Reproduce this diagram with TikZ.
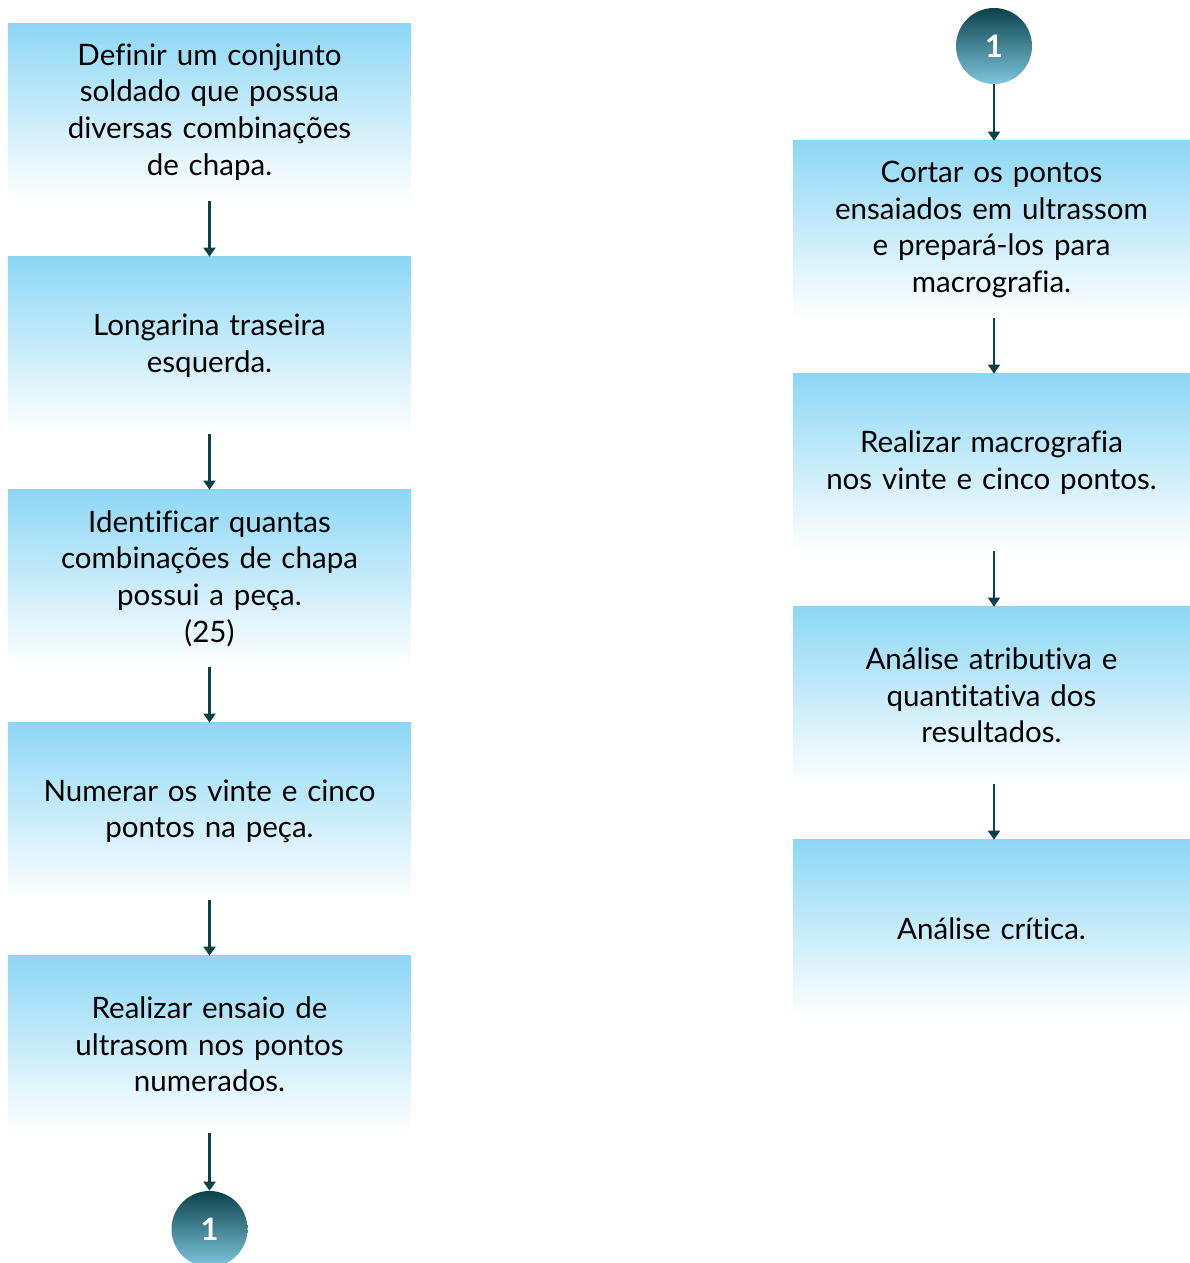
\documentclass[tikz,border=0pt]{standalone}
\usepackage{fontspec}
\setmainfont[Ligatures=NoCommon]{Lato}
\usepackage{xcolor}
\usepackage{tikz}
\usetikzlibrary{arrows.meta}

\definecolor{azulcaixa}{HTML}{8DD7F5}
\definecolor{tealescuro}{HTML}{0B4249}
\definecolor{tealclaro}{HTML}{7FC6DF}

\begin{document}
\begin{tikzpicture}[x=0.025cm, y=-0.025cm]
  % Define styles
  \tikzstyle{etapa} = [rectangle, top color=azulcaixa, bottom color=white, minimum height=4.425cm,
                       text width=9.6cm, align=center, inner sep=0pt,
                       font=\fontsize{21}{26}\selectfont]
  \tikzstyle{esq} = [etapa, minimum width=10.075cm]
  \tikzstyle{dir} = [etapa, minimum width=9.925cm]
  \tikzstyle{conector} = [circle, top color=tealescuro, bottom color=tealclaro, minimum size=1.9cm,
                          inner sep=0pt, text=white, font=\fontsize{22}{24}\selectfont\bfseries]
  \tikzstyle{flecha} = [-{Triangle[width=8.5pt,length=6.5pt]}, line width=1.8pt, draw=tealescuro]

  \useasboundingbox (0,0) rectangle (1190,1263);
  \clip (0,0) rectangle (1190,1263);

  % Left column
  \node[esq] (def) at (209.5,112) {Definir um conjunto\\ soldado que possua\\ diversas combinações\\ de chapa.};
  \node[esq] (lon) at (209.5,345.5) {Longarina traseira\\ esquerda.};
  \node[esq] (ide) at (209.5,578.5) {Identificar quantas\\ combinações de chapa\\ possui a peça.\\ (25)};
  \node[esq] (num) at (209.5,811.5) {Numerar os vinte e cinco\\ pontos na peça.};
  \node[esq] (ens) at (209.5,1044.5) {Realizar ensaio de\\ ultrasom nos pontos\\ numerados.};
  \node[conector] (c1a) at (209.5,1229) {1};

  % Right column
  \node[conector] (c1b) at (994,46) {1};
  \node[dir] (cor) at (991.5,229.5) {Cortar os pontos\\ ensaiados em ultrassom\\ e prepará-los para\\ macrografia.};
  \node[dir] (mac) at (991.5,462.5) {Realizar macrografia\\ nos vinte e cinco pontos.};
  \node[dir] (ana) at (991.5,695.5) {Análise atributiva e\\ quantitativa dos\\ resultados.};
  \node[dir] (cri) at (991.5,928.5) {Análise crítica.};

  % Arrows
  \draw[flecha] (def.south) -- (lon.north);
  \draw[flecha] (lon.south) -- (ide.north);
  \draw[flecha] (ide.south) -- (num.north);
  \draw[flecha] (num.south) -- (ens.north);
  \draw[flecha] (ens.south) -- (c1a.north);
  \draw[flecha] (c1b.south) -- (cor.north -| c1b);
  \draw[flecha] (cor.south -| c1b) -- (mac.north -| c1b);
  \draw[flecha] (mac.south -| c1b) -- (ana.north -| c1b);
  \draw[flecha] (ana.south -| c1b) -- (cri.north -| c1b);
\end{tikzpicture}
\end{document}
